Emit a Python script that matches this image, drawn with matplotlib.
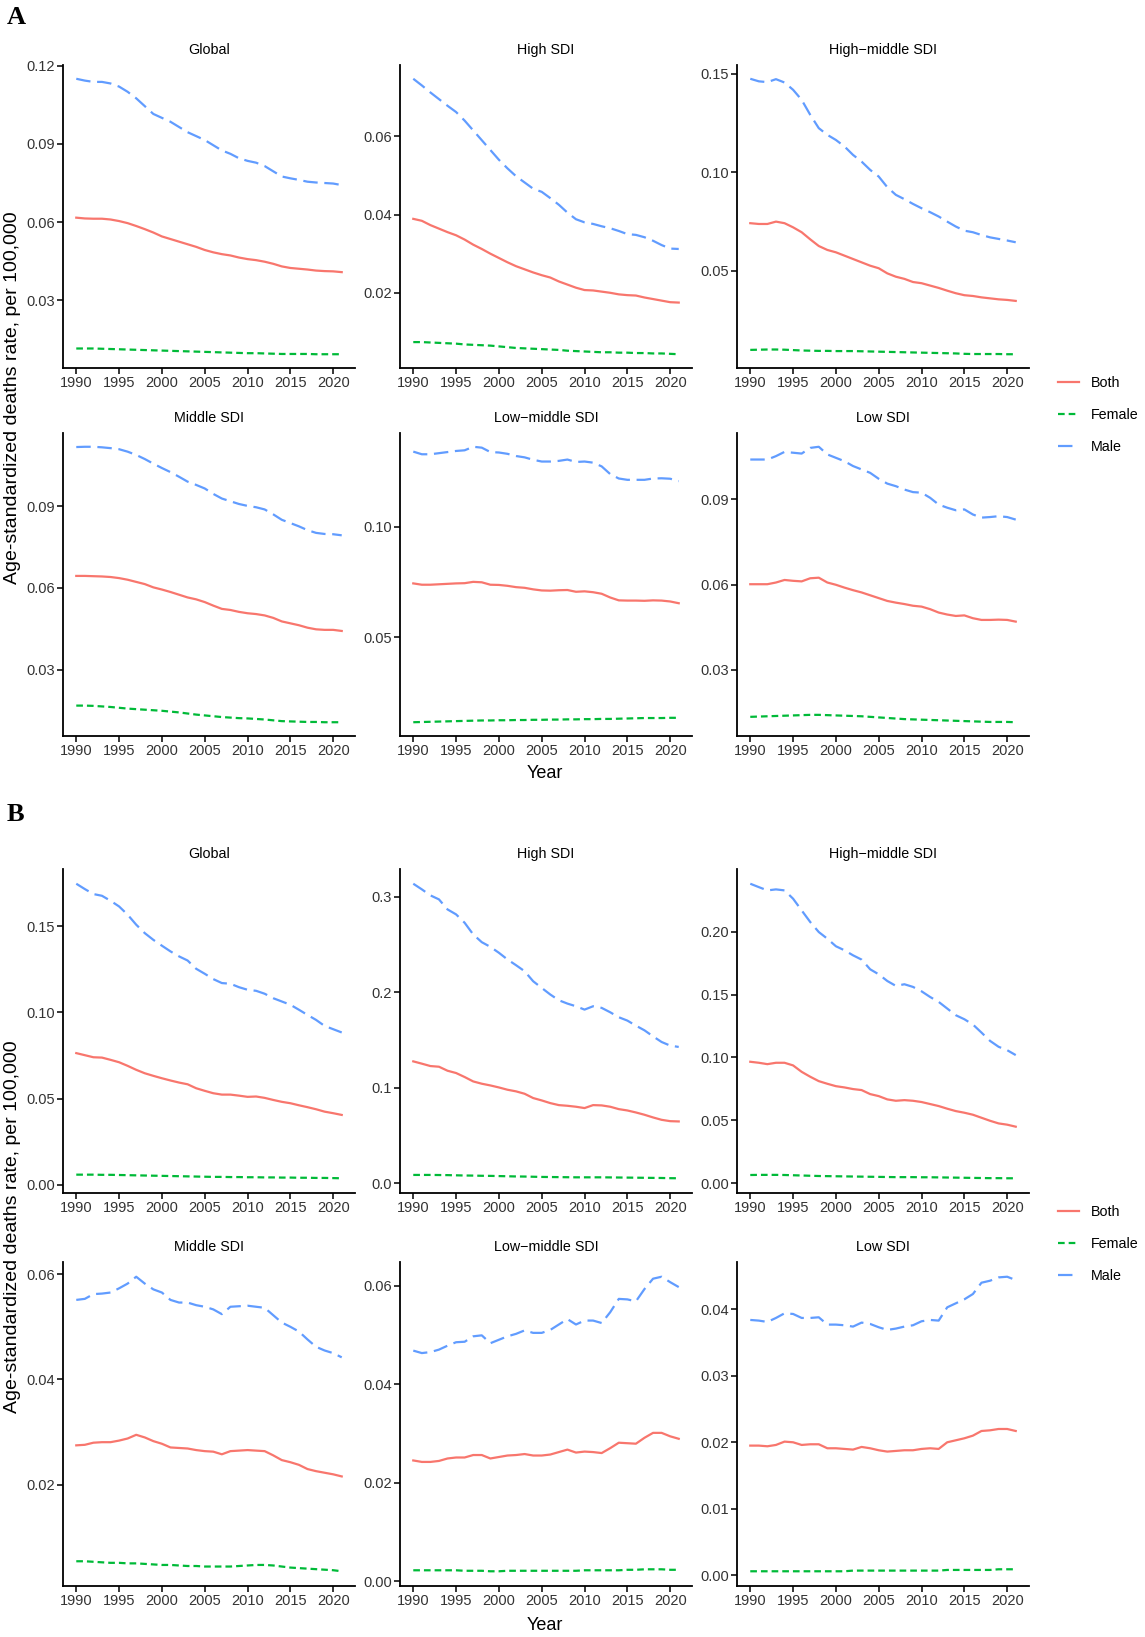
import matplotlib
matplotlib.use("Agg")
from matplotlib import pyplot as plt
from matplotlib.lines import Line2D

plt.rcParams['font.family'] = ['Liberation Sans', 'DejaVu Sans']

# ---- data ----
years = list(range(1990, 2022))
regions = ["Global", "High SDI", "High\u2212middle SDI",
           "Middle SDI", "Low\u2212middle SDI", "Low SDI"]
sexes = ["Both", "Female", "Male"]

# Panel A
a_global_both = [.0617, .0614, .0613, .0613, .0610, .0604, .0596, .0585, .0573, .0560, .0545, .0535, .0525, .0515, .0505, .0493,
                 .0484, .0477, .0472, .0464, .0458, .0454, .0448, .0440, .0430, .0424, .0421, .0418, .0414, .0412, .0411, .0408]
a_global_female = [.0115, .0115, .0115, .0114, .0113, .0112, .0111, .0110, .0109, .0108, .0107, .0106, .0105, .0104, .0103, .0102,
                   .0101, .0100, .0099, .0098, .0097, .0097, .0096, .0095, .0094, .0094, .0094, .0094, .0093, .0093, .0093, .0093]
a_global_male = [.1150, .1143, .1138, .1138, .1132, .1120, .1100, .1075, .1045, .1015, .1000, .0985, .0965, .0945, .0930, .0915,
                 .0895, .0875, .0862, .0845, .0835, .0828, .0815, .0795, .0775, .0768, .0762, .0755, .0752, .0750, .0748, .0742]

a_high_both = [.0389, .0384, .0373, .0364, .0355, .0347, .0336, .0323, .0312, .0300, .0289, .0278, .0268, .0260, .0252, .0245,
               .0239, .0229, .0221, .0213, .0207, .0206, .0203, .0200, .0196, .0194, .0193, .0188, .0184, .0180, .0176, .0175]
a_high_female = [.0074, .0074, .0073, .0072, .0071, .0070, .0068, .0067, .0066, .0065, .0063, .0061, .0059, .0058, .0057, .0056,
                 .0055, .0054, .0052, .0051, .0050, .0049, .0048, .0048, .0047, .0047, .0046, .0046, .0045, .0045, .0044, .0043]
a_high_male = [.0747, .0730, .0712, .0695, .0678, .0662, .0640, .0615, .0590, .0565, .0540, .0518, .0498, .0482, .0466, .0458,
               .0442, .0425, .0405, .0388, .0380, .0376, .0370, .0365, .0358, .0350, .0348, .0342, .0333, .0322, .0313, .0312]

a_highmid_both = [.0741, .0737, .0737, .0749, .0741, .0720, .0695, .0659, .0625, .0605, .0593, .0576, .0559, .0542, .0525, .0512,
                  .0486, .0469, .0458, .0442, .0436, .0424, .0412, .0398, .0385, .0375, .0371, .0364, .0359, .0354, .0351, .0346]
a_highmid_female = [.0097, .0098, .0099, .0099, .0098, .0096, .0094, .0093, .0092, .0092, .0091, .0091, .0091, .0090, .0089, .0088,
                    .0087, .0086, .0085, .0084, .0083, .0082, .0081, .0080, .0079, .0077, .0076, .0076, .0076, .0076, .0075, .0075]
a_highmid_male = [.1475, .1462, .1458, .1473, .1456, .1419, .1368, .1292, .1224, .1190, .1164, .1131, .1088, .1054, .1012, .0978,
                  .0924, .0885, .0863, .0839, .0817, .0797, .0775, .0749, .0724, .0703, .0695, .0681, .0669, .0661, .0653, .0644]

a_mid_both = [.0644, .0644, .0643, .0642, .0640, .0636, .0630, .0622, .0614, .0602, .0594, .0585, .0575, .0565, .0558, .0548,
              .0535, .0523, .0519, .0512, .0507, .0504, .0499, .0490, .0477, .0470, .0463, .0454, .0448, .0446, .0446, .0442]
a_mid_female = [.0168, .0168, .0167, .0165, .0163, .0160, .0157, .0155, .0153, .0151, .0149, .0146, .0143, .0139, .0135, .0132,
                .0129, .0126, .0124, .0122, .0121, .0119, .0117, .0114, .0111, .0110, .0109, .0108, .0108, .0107, .0107, .0107]
a_mid_male = [.1117, .1118, .1118, .1116, .1113, .1109, .1100, .1088, .1073, .1056, .1040, .1025, .1008, .0990, .0978, .0965,
              .0945, .0928, .0918, .0908, .0901, .0896, .0888, .0870, .0850, .0838, .0826, .0812, .0802, .0798, .0797, .0793]

a_lowmid_both = [.0744, .0738, .0738, .0740, .0742, .0744, .0745, .0751, .0749, .0738, .0737, .0733, .0727, .0724, .0717, .0712,
                 .0711, .0713, .0714, .0706, .0708, .0704, .0697, .0680, .0667, .0666, .0666, .0665, .0667, .0666, .0662, .0654]
a_lowmid_female = [.0114, .0115, .0116, .0117, .0118, .0119, .0120, .0121, .0122, .0122, .0123, .0123, .0124, .0124, .0125, .0125,
                   .0126, .0126, .0127, .0127, .0128, .0128, .0129, .0129, .0130, .0131, .0132, .0133, .0133, .0133, .0134, .0134]
a_lowmid_male = [.1342, .1330, .1330, .1335, .1340, .1345, .1348, .1364, .1360, .1340, .1338, .1332, .1322, .1316, .1305, .1297,
                 .1297, .1300, .1306, .1295, .1297, .1292, .1275, .1240, .1220, .1214, .1214, .1214, .1220, .1221, .1219, .1208]

a_low_both = [.0601, .0601, .0601, .0607, .0616, .0613, .0611, .0622, .0624, .0607, .0599, .0589, .0580, .0572, .0562, .0552,
              .0542, .0536, .0531, .0525, .0522, .0513, .0501, .0494, .0489, .0491, .0481, .0475, .0475, .0476, .0475, .0469]
a_low_female = [.0133, .0134, .0135, .0136, .0137, .0138, .0139, .0140, .0140, .0139, .0138, .0137, .0136, .0135, .0133, .0131,
                .0129, .0127, .0125, .0124, .0123, .0122, .0121, .0120, .0119, .0118, .0117, .0116, .0115, .0115, .0115, .0114]
a_low_male = [.1041, .1041, .1041, .1053, .1068, .1065, .1062, .1082, .1086, .1059, .1047, .1035, .1018, .1006, .0994, .0973,
              .0956, .0947, .0935, .0926, .0924, .0906, .0882, .0871, .0862, .0865, .0847, .0836, .0838, .0841, .0838, .0829]

# Panel B
b_global_both = [.0764, .0752, .0740, .0738, .0725, .0711, .0690, .0667, .0647, .0632, .0618, .0605, .0593, .0583, .0560, .0545,
                 .0531, .0523, .0523, .0517, .0510, .0512, .0504, .0492, .0481, .0473, .0461, .0450, .0438, .0424, .0415, .0405]
b_global_female = [.0058, .0058, .0058, .0057, .0057, .0056, .0055, .0054, .0053, .0052, .0051, .0050, .0049, .0048, .0047, .0046,
                   .0045, .0045, .0044, .0044, .0043, .0043, .0042, .0042, .0041, .0041, .0040, .0040, .0039, .0039, .0038, .0037]
b_global_male = [.1748, .1717, .1688, .1678, .1649, .1616, .1568, .1510, .1461, .1422, .1388, .1355, .1326, .1302, .1254, .1225,
                 .1194, .1171, .1167, .1147, .1132, .1126, .1109, .1083, .1064, .1045, .1016, .0986, .0957, .0922, .0903, .0884]

b_high_both = [.1276, .1252, .1227, .1220, .1178, .1154, .1112, .1066, .1042, .1024, .1003, .0979, .0962, .0937, .0892, .0867,
               .0839, .0818, .0811, .0801, .0787, .0818, .0815, .0801, .0776, .0762, .0741, .0717, .0689, .0664, .0650, .0647]
b_high_female = [.0087, .0087, .0087, .0086, .0085, .0083, .0081, .0080, .0078, .0077, .0075, .0073, .0071, .0070, .0068, .0066,
                 .0065, .0064, .0063, .0062, .0062, .0062, .0062, .0061, .0060, .0059, .0058, .0057, .0056, .0055, .0053, .0052]
b_high_male = [.3136, .3077, .3014, .2972, .2867, .2815, .2727, .2605, .2524, .2475, .2413, .2343, .2283, .2220, .2115, .2045,
               .1976, .1916, .1881, .1853, .1818, .1853, .1836, .1790, .1738, .1703, .1650, .1601, .1538, .1479, .1441, .1427]

b_highmid_both = [.0966, .0958, .0947, .0958, .0958, .0937, .0886, .0847, .0812, .0791, .0772, .0762, .0749, .0741, .0709, .0693,
                  .0667, .0656, .0661, .0656, .0646, .0630, .0614, .0593, .0574, .0561, .0545, .0521, .0497, .0476, .0466, .0450]
b_highmid_female = [.0066, .0067, .0067, .0067, .0066, .0064, .0062, .0060, .0058, .0057, .0056, .0055, .0054, .0053, .0052, .0051,
                    .0050, .0049, .0049, .0049, .0048, .0048, .0047, .0046, .0045, .0044, .0043, .0042, .0041, .0041, .0040, .0040]
b_highmid_male = [.2381, .2354, .2328, .2336, .2328, .2262, .2169, .2077, .1997, .1944, .1884, .1852, .1812, .1778, .1701, .1661,
                  .1608, .1569, .1582, .1561, .1526, .1481, .1442, .1389, .1336, .1304, .1262, .1198, .1132, .1085, .1058, .1019]

b_mid_both = [.0275, .0276, .0280, .0281, .0281, .0284, .0288, .0295, .0290, .0283, .0278, .0271, .0270, .0269, .0266, .0264,
              .0263, .0258, .0264, .0265, .0266, .0265, .0264, .0256, .0247, .0243, .0238, .0230, .0226, .0223, .0220, .0216]
b_mid_female = [.0055, .0055, .0054, .0053, .0052, .0052, .0051, .0051, .0050, .0049, .0048, .0048, .0047, .0046, .0046, .0045,
                .0045, .0045, .0045, .0046, .0047, .0048, .0048, .0047, .0045, .0043, .0042, .0041, .0040, .0039, .0038, .0036]
b_mid_male = [.0551, .0553, .0562, .0563, .0565, .0573, .0582, .0595, .0582, .0571, .0565, .0551, .0546, .0546, .0541, .0538,
              .0533, .0524, .0538, .0539, .0540, .0538, .0536, .0522, .0508, .0500, .0491, .0476, .0462, .0455, .0450, .0442]

b_lowmid_both = [.0245, .0242, .0242, .0244, .0249, .0251, .0251, .0256, .0256, .0249, .0252, .0255, .0256, .0258, .0255, .0255,
                 .0257, .0262, .0267, .0261, .0263, .0262, .0260, .0270, .0281, .0280, .0279, .0291, .0301, .0301, .0294, .0289]
b_lowmid_female = [.0022, .0022, .0022, .0022, .0022, .0022, .0021, .0021, .0021, .0020, .0020, .0021, .0021, .0021, .0021, .0021,
                   .0021, .0021, .0021, .0021, .0022, .0022, .0022, .0022, .0022, .0023, .0023, .0024, .0024, .0024, .0023, .0023]
b_lowmid_male = [.0468, .0463, .0465, .0470, .0478, .0485, .0486, .0497, .0499, .0483, .0490, .0497, .0502, .0509, .0504, .0504,
                 .0510, .0521, .0532, .0521, .0529, .0529, .0524, .0546, .0573, .0572, .0568, .0593, .0614, .0618, .0607, .0597]

b_low_both = [.0195, .0195, .0194, .0196, .0201, .0200, .0196, .0197, .0197, .0191, .0191, .0190, .0189, .0193, .0191, .0188,
              .0186, .0187, .0188, .0188, .0190, .0191, .0190, .0200, .0203, .0206, .0210, .0217, .0218, .0220, .0220, .0217]
b_low_female = [.0006, .0006, .0006, .0006, .0006, .0006, .0006, .0006, .0006, .0006, .0006, .0006, .0007, .0007, .0007, .0007,
                .0007, .0007, .0007, .0007, .0007, .0007, .0007, .0008, .0008, .0008, .0008, .0008, .0008, .0009, .0009, .0009]
b_low_male = [.0384, .0383, .0381, .0387, .0394, .0393, .0387, .0387, .0388, .0377, .0377, .0376, .0374, .0380, .0378, .0373,
              .0369, .0371, .0374, .0376, .0382, .0384, .0383, .0403, .0409, .0415, .0423, .0440, .0443, .0448, .0449, .0444]

# y tick breaks for each panel
a_yticks = [[0.03, 0.06, 0.09, 0.12], [0.02, 0.04, 0.06], [0.05, 0.10, 0.15],
            [0.03, 0.06, 0.09], [0.05, 0.10], [0.03, 0.06, 0.09]]
b_yticks = [[0.00, 0.05, 0.10, 0.15], [0.0, 0.1, 0.2, 0.3], [0.00, 0.05, 0.10, 0.15, 0.20],
            [0.02, 0.04, 0.06], [0.00, 0.02, 0.04, 0.06], [0.00, 0.01, 0.02, 0.03, 0.04]]
b_ydecimals = [2, 1, 2, 2, 2, 2]

panel_a = [(a_global_both, a_global_female, a_global_male),
           (a_high_both, a_high_female, a_high_male),
           (a_highmid_both, a_highmid_female, a_highmid_male),
           (a_mid_both, a_mid_female, a_mid_male),
           (a_lowmid_both, a_lowmid_female, a_lowmid_male),
           (a_low_both, a_low_female, a_low_male)]
panel_b = [(b_global_both, b_global_female, b_global_male),
           (b_high_both, b_high_female, b_high_male),
           (b_highmid_both, b_highmid_female, b_highmid_male),
           (b_mid_both, b_mid_female, b_mid_male),
           (b_lowmid_both, b_lowmid_female, b_lowmid_male),
           (b_low_both, b_low_female, b_low_male)]

# ---- styling ----
colors = ["#F8766D", "#00BA38", "#619CFF"]
dashes = [None, (3.0, 1.8), (6.5, 3.0)]
LW = 1.6
W, H = 1145, 1637

fig = plt.figure(figsize=(W / 100, H / 100), dpi=100)

col_left = [63, 400, 737]
col_w = 292


def add_ax(left, top, bottom):
    return fig.add_axes([left / W, 1 - bottom / H, col_w / W, (bottom - top) / H])


def draw_panel(ax, series, title, ticks, dec):
    for vals, c, d in zip(series, colors, dashes):
        ln, = ax.plot(years, vals, color=c, lw=LW)
        if d is not None:
            ln.set_dashes(d)
    ax.margins(x=0.05, y=0.05)
    ax.set_xticks(range(1990, 2021, 5))
    ax.set_yticks(ticks)
    ax.set_yticklabels([f"{t:.{dec}f}" for t in ticks])
    for s in ["top", "right"]:
        ax.spines[s].set_visible(False)
    for s in ["left", "bottom"]:
        ax.spines[s].set_linewidth(1.3)
    ax.tick_params(length=4, width=1.1, color="black", labelsize=10.5,
                   labelcolor="#333333", pad=2)
    ax.set_title(title, fontsize=10.3, pad=8)


rows_a = [(65, 368), (433, 736)]
rows_b = [(869, 1193), (1262, 1586)]

for i in range(6):
    r, c = divmod(i, 3)
    ax = add_ax(col_left[c], *rows_a[r])
    draw_panel(ax, panel_a[i], regions[i], a_yticks[i], 2)
    ax = add_ax(col_left[c], *rows_b[r])
    draw_panel(ax, panel_b[i], regions[i], b_yticks[i], b_ydecimals[i])

ylab = "Age-standardized deaths rate, per 100,000"
for lab, ycen, year_y in [("A", 17, 773), ("B", 815, 1625)]:
    fig.text(7 / W, 1 - ycen / H, lab, fontsize=19, fontweight="bold",
             family=["Liberation Serif", "DejaVu Serif"], va="center", ha="left")
    fig.text(545 / W, 1 - year_y / H, "Year", fontsize=13, ha="center", va="center")

fig.text(13 / W, 1 - 398 / H, ylab, rotation=90, fontsize=14, ha="center", va="center")
fig.text(13 / W, 1 - 1227 / H, ylab, rotation=90, fontsize=14, ha="center", va="center")

handles = []
for c, d in zip(colors, dashes):
    h = Line2D([], [], color=c, lw=LW)
    if d is not None:
        h.set_dashes(d)
    handles.append(h)

for yc in [415, 1244]:
    fig.legend(handles, sexes, loc="center left", bbox_to_anchor=(1058 / W, 1 - yc / H),
               frameon=False, fontsize=10.3, handlelength=1.5, handletextpad=0.8,
               labelspacing=1.25, borderaxespad=0, borderpad=0)

fig.savefig("out.png", dpi=100)
